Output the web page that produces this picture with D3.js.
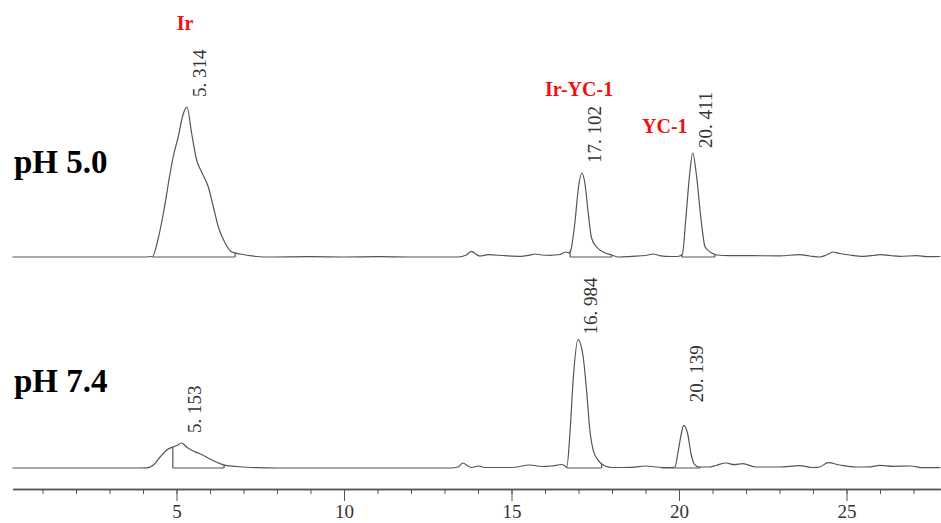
<!DOCTYPE html>
<html>
<head>
<meta charset="utf-8">
<script src="https://cdn.jsdelivr.net/npm/d3@7/dist/d3.min.js"></script>
<style>
  html, body { margin: 0; padding: 0; background: #fff; }
  svg { display: block; }
</style>
</head>
<body>
<svg id="chart" width="941" height="523"></svg>
<script>
// Retention time (min) and detector response for each run
const timeAcid = [0.1,3.9,4.28,4.45,4.61,4.81,4.90,5.05,5.2,5.314,5.45,5.60,5.75,5.95,6.10,6.25,6.45,6.65,6.9,7.4,7.8,9,10,11,12,13.4,13.65,13.81,13.95,14.06,14.3,14.8,15.3,15.55,15.7,15.9,16.15,16.45,16.62,16.72,16.78,16.9,17.0,17.102,17.19,17.29,17.39,17.54,17.74,17.99,18.2,18.6,19.0,19.23,19.45,19.6,19.95,20.1,20.2,20.31,20.411,20.52,20.66,20.78,20.98,21.13,21.5,22.2,23.0,23.6,23.9,24.2,24.4,24.6,24.8,25.1,25.5,25.8,26.0,26.3,26.6,27.1,27.4,27.8];
const signalAcid = [0,0,0.5,18,44,84,100,120,143,150,124,97,85,70,50,30,14,5,3,0.5,0,0.3,0,0.3,0,0,2,5.7,2.5,1,2.3,1.3,0.7,1.8,3,2,1.7,2.5,5,4,8,37,70,84,74,44,19,10,5,2,0,0.7,1.5,3,1.2,0.7,0.5,2.5,37,80,104,82,37,10,4,2,1.3,1.3,1.2,2.3,1,0,2,5,3.5,2,0.7,1.5,2.3,1.5,0.7,1.3,0.3,0.5];

const timeNeutral = [0.1,3.6,4.11,4.31,4.51,4.71,4.89,5.0,5.153,5.30,5.50,5.75,6.0,6.25,6.5,7.0,7.4,8,13.2,13.4,13.55,13.7,13.82,14.0,14.2,15.0,15.55,15.9,16.2,16.5,16.6,16.65,16.75,16.84,16.984,17.14,17.24,17.34,17.44,17.59,17.79,18.0,18.6,19.0,19.3,19.8,19.88,19.98,20.08,20.139,20.26,20.36,20.46,20.6,20.9,21.1,21.4,21.65,21.9,22.3,23.0,23.6,24.0,24.2,24.45,24.8,25.3,25.7,26.0,26.4,26.9,27.3,27.8];
const signalNeutral = [0,0,0.2,3,11,18,21,22.3,25,21,17,13.5,9,5,2.3,1,0.3,0,0,1,5,2,0.5,2,0.5,0.5,3,1.5,2,3.5,2,1,37.7,87.7,128.4,111,77.7,37.7,17.7,7.7,2,0.5,0.7,2,1,0.5,1,17.7,36,42.7,34,14,3.7,1,1,2.5,5,3.3,4.3,1,1,2.3,0.5,1,5.3,3,1,1.2,2.7,1.7,2,0.3,0.3];

// Integration windows (start, end) in minutes
const windowsAcid = [[4.28, 6.75], [16.75, 17.99], [20.08, 21.07]];
const windowsNeutral = [[4.89, 6.42], [16.65, 17.69], [19.48, 20.63]];

// Retention times printed over the peaks
const peaksAcid = [5.314, 17.102, 20.411];
const peaksNeutral = [5.153, 16.984, 20.139];

// Compound names and run labels
const compoundNames = ["Ir", "Ir-YC-1", "YC-1"];
const runLabels = ["pH 5.0", "pH 7.4"];

const majorTicks = [5, 10, 15, 20, 25];
const minorTicks = d3.range(1, 28);

const svg = d3.select("#chart");
const serif = "'Liberation Serif', 'Times New Roman', serif";
const traceColor = "#555";

const x = d3.scaleLinear().domain([0.11, 27.8]).range([12.7, 940.3]);
const yAcid = d3.scaleLinear().domain([0, 150]).range([257, 107]);
const yNeutral = d3.scaleLinear().domain([0, 150]).range([468, 318]);

function drawRun(times, values, windows, peaks, y, labelNudge) {
  const pts = times.map((t, i) => [t, values[i]]);
  const line = d3.line().x(d => x(d[0])).y(d => y(d[1])).curve(d3.curveMonotoneX);
  svg.append("path").datum(pts)
    .attr("d", line)
    .attr("fill", "none")
    .attr("stroke", traceColor)
    .attr("stroke-width", 1.2)
    .attr("stroke-linejoin", "round");

  const at = t => {
    const i = d3.bisectLeft(times, t);
    if (i <= 0) return values[0];
    if (i >= times.length) return values[values.length - 1];
    const f = (t - times[i - 1]) / (times[i] - times[i - 1]);
    return values[i - 1] + f * (values[i] - values[i - 1]);
  };

  // integration baselines with drop lines at both ends
  windows.forEach(([a, b]) => {
    svg.append("line")
      .attr("x1", x(a)).attr("x2", x(b))
      .attr("y1", y(0)).attr("y2", y(0))
      .attr("stroke", traceColor).attr("stroke-width", 1.2);
    [a, b].forEach(t => {
      svg.append("line")
        .attr("x1", x(t)).attr("x2", x(t))
        .attr("y1", y(0)).attr("y2", y(at(t)))
        .attr("stroke", traceColor).attr("stroke-width", 1.2);
    });
  });

  // retention-time annotations, rotated
  peaks.forEach((p, i) => {
    const px = x(p) + 19;
    const py = y(at(p)) - labelNudge[i];
    const txt = p.toFixed(3).replace(".", ". ");
    svg.append("text")
      .attr("transform", `translate(${px},${py}) rotate(-90)`)
      .attr("font-family", serif)
      .attr("font-size", 19)
      .attr("fill", "#333")
      .text(txt);
  });
}

drawRun(timeAcid, signalAcid, windowsAcid, peaksAcid, yAcid, [10, 10, 5]);
drawRun(timeNeutral, signalNeutral, windowsNeutral, peaksNeutral, yNeutral, [10, 5, 23]);

// compound names
const namePos = [
  { x: 185, y: 30, anchor: "middle" },
  { x: 545, y: 96, anchor: "start" },
  { x: 642, y: 133, anchor: "start" }
];
compoundNames.forEach((n, i) => {
  svg.append("text")
    .attr("x", namePos[i].x).attr("y", namePos[i].y)
    .attr("text-anchor", namePos[i].anchor)
    .attr("font-family", serif)
    .attr("font-weight", "bold")
    .attr("font-size", 20)
    .attr("fill", "#f01010")
    .text(n);
});

// run labels
[173, 392].forEach((yy, i) => {
  svg.append("text")
    .attr("x", 14).attr("y", yy)
    .attr("font-family", serif)
    .attr("font-weight", "bold")
    .attr("font-size", 33)
    .attr("fill", "#000")
    .text(runLabels[i]);
});

// time axis
const axisY = 489;
const minorAxis = d3.axisBottom(x).tickValues(minorTicks).tickSize(5).tickSizeOuter(0).tickFormat("");
const majorAxis = d3.axisBottom(x).tickValues(majorTicks).tickSize(12).tickSizeOuter(0).tickPadding(3).tickFormat(d3.format("d"));

const gMinor = svg.append("g").attr("transform", `translate(0,${axisY})`).call(minorAxis);
const gMajor = svg.append("g").attr("transform", `translate(0,${axisY})`).call(majorAxis);
[gMinor, gMajor].forEach(g => {
  g.selectAll("path.domain").attr("stroke", "#555").attr("stroke-width", 1.5);
  g.selectAll(".tick line").attr("stroke", "#555").attr("stroke-width", 1);
});
gMajor.selectAll(".tick text")
  .attr("y", 29)
  .attr("dy", null)
  .attr("font-family", serif)
  .attr("font-size", 19)
  .attr("fill", "#333");
</script>
</body>
</html>
